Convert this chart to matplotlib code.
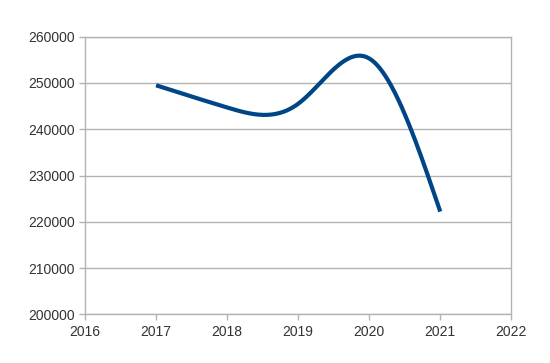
import numpy as np
import matplotlib
matplotlib.use("Agg")
import matplotlib.pyplot as plt

years = [2017, 2018, 2019, 2020, 2021]
values = [249500, 244700, 245500, 255300, 222200]
x_ticks = [2016, 2017, 2018, 2019, 2020, 2021, 2022]
y_ticks = [200000, 210000, 220000, 230000, 240000, 250000, 260000]


def natural_spline(x, y, n=400):
    x = np.asarray(x, float)
    y = np.asarray(y, float)
    k = len(x)
    h = np.diff(x)
    A = np.zeros((k, k))
    r = np.zeros(k)
    A[0, 0] = A[-1, -1] = 1
    for i in range(1, k - 1):
        A[i, i - 1] = h[i - 1]
        A[i, i] = 2 * (h[i - 1] + h[i])
        A[i, i + 1] = h[i]
        r[i] = 3 * ((y[i + 1] - y[i]) / h[i] - (y[i] - y[i - 1]) / h[i - 1])
    c = np.linalg.solve(A, r)
    xs = np.linspace(x[0], x[-1], n)
    ys = np.empty_like(xs)
    for j, xv in enumerate(xs):
        i = min(np.searchsorted(x, xv, side="right") - 1, k - 2)
        b = (y[i + 1] - y[i]) / h[i] - h[i] * (2 * c[i] + c[i + 1]) / 3
        d = (c[i + 1] - c[i]) / (3 * h[i])
        t = xv - x[i]
        ys[j] = y[i] + b * t + c[i] * t ** 2 + d * t ** 3
    return xs, ys


plt.rcParams["font.family"] = ["Liberation Sans", "DejaVu Sans"]
fig = plt.figure(figsize=(5.5, 3.63), dpi=100)
ax = fig.add_axes([85 / 550, 1 - 314.3 / 363, 426.3 / 550, 277.6 / 363])

xs, ys = natural_spline(years, values)
ax.plot(xs, ys, color="#004586", linewidth=3, solid_capstyle="butt", zorder=3)

ax.set_xlim(2016, 2022)
ax.set_ylim(200000, 260000)
ax.set_xticks(x_ticks)
ax.set_yticks(y_ticks)
ax.set_xticklabels([str(v) for v in x_ticks])
ax.set_yticklabels([str(v) for v in y_ticks])
ax.grid(axis="y", color="#b3b3b3", linewidth=1)
ax.set_axisbelow(True)
for s in ax.spines.values():
    s.set_color("#b3b3b3")
    s.set_linewidth(1)
ax.tick_params(colors="#b3b3b3", labelcolor="#333333", labelsize=10, length=4, width=1, direction="out")

fig.savefig("out.png", dpi=100)
